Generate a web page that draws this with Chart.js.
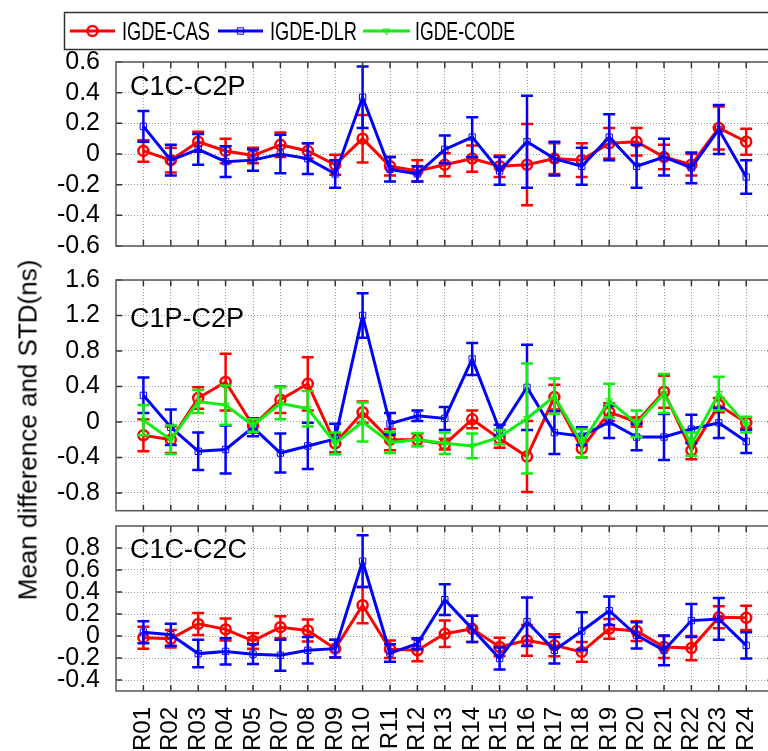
<!DOCTYPE html>
<html>
<head>
<meta charset="utf-8">
<script src="https://cdn.jsdelivr.net/npm/chart.js@4.4.1/dist/chart.umd.min.js"></script>
<style>
html, body { margin: 0; padding: 0; background: #fff; }
body { width: 768px; height: 751px; overflow: hidden; position: relative; }
canvas { position: absolute; left: 0; }
#ytitle {
    position: absolute; left: 28px; top: 430px;
    transform: translate(-50%, -50%) rotate(-90deg);
    font: 26px 'Liberation Sans', Arial, sans-serif;
    white-space: nowrap; color: #000;
}
</style>
</head>
<body>
<canvas id="p1" width="782" height="256" style="top:0"></canvas>
<canvas id="p2" width="782" height="253" style="top:268px"></canvas>
<canvas id="p3" width="782" height="239" style="top:512px"></canvas>
<div id="ytitle">Mean difference and STD(ns)</div>
<script>
// stations (R06 absent)
const stations = ['R01','R02','R03','R04','R05','R07','R08','R09','R10','R11','R12','R13',
                  'R14','R15','R16','R17','R18','R19','R20','R21','R22','R23','R24'];

// C1C-C2P
const casP1    = [0.02,-0.04,0.08,0.02,-0.01,0.06,0.02,-0.07,0.10,-0.08,-0.11,-0.07,-0.03,-0.08,-0.07,-0.03,-0.04,0.07,0.08,-0.02,-0.07,0.17,0.08];
const casP1Std = [0.07,0.08,0.065,0.08,0.05,0.08,0.05,0.065,0.155,0.06,0.07,0.075,0.085,0.07,0.265,0.1,0.11,0.1,0.09,0.08,0.07,0.14,0.085];
const dlrP1    = [0.18,-0.04,0.03,-0.05,-0.04,0.0,-0.03,-0.13,0.37,-0.10,-0.13,0.03,0.11,-0.11,0.08,-0.03,-0.08,0.11,-0.08,-0.02,-0.09,0.16,-0.15];
const dlrP1Std = [0.1,0.1,0.1,0.1,0.07,0.125,0.1,0.09,0.2,0.08,0.05,0.09,0.13,0.09,0.3,0.11,0.12,0.15,0.14,0.12,0.1,0.16,0.11];

// C1P-C2P
const casP2     = [-0.15,-0.2,0.27,0.45,-0.04,0.25,0.43,-0.24,0.11,-0.2,-0.2,-0.25,0.03,-0.19,-0.39,0.28,-0.3,0.11,0.0,0.34,-0.32,0.19,-0.01];
const casP2Std  = [0.18,0.15,0.12,0.32,0.08,0.15,0.3,0.1,0.12,0.12,0.07,0.06,0.1,0.1,0.4,0.14,0.1,0.1,0.05,0.18,0.1,0.08,0.06];
const dlrP2     = [0.3,-0.06,-0.33,-0.31,-0.06,-0.35,-0.27,-0.19,1.2,-0.02,0.07,0.04,0.71,-0.09,0.39,-0.12,-0.16,0.0,-0.17,-0.17,-0.08,-0.01,-0.22];
const dlrP2Std  = [0.2,0.2,0.21,0.27,0.1,0.22,0.26,0.17,0.25,0.12,0.06,0.13,0.18,0.06,0.48,0.24,0.1,0.18,0.15,0.26,0.16,0.17,0.13];
const codeP2    = [0.02,-0.2,0.23,0.19,-0.04,0.21,0.15,-0.24,0.0,-0.23,-0.2,-0.24,-0.27,-0.17,0.04,0.29,-0.24,0.24,-0.02,0.32,-0.25,0.32,-0.03];
const codeP2Std = [0.17,0.16,0.13,0.22,0.07,0.18,0.2,0.12,0.22,0.12,0.075,0.12,0.14,0.08,0.62,0.2,0.16,0.19,0.15,0.22,0.13,0.19,0.09];

// C1C-C2C
const casP3    = [-0.015,-0.025,0.11,0.06,-0.045,0.08,0.05,-0.115,0.28,-0.12,-0.13,0.02,0.065,-0.1,-0.04,-0.085,-0.145,0.065,0.045,-0.1,-0.11,0.17,0.165];
const casP3Std = [0.1,0.08,0.1,0.1,0.07,0.1,0.1,0.08,0.165,0.08,0.1,0.12,0.12,0.085,0.14,0.1,0.09,0.09,0.09,0.1,0.11,0.1,0.11];
const dlrP3    = [0.035,0.012,-0.16,-0.14,-0.165,-0.175,-0.13,-0.115,0.68,-0.155,-0.07,0.33,0.065,-0.205,0.13,-0.13,0.045,0.23,0.006,-0.13,0.14,0.155,-0.085];
const dlrP3Std = [0.1,0.1,0.125,0.12,0.09,0.14,0.12,0.08,0.235,0.08,0.05,0.14,0.12,0.1,0.22,0.12,0.17,0.13,0.12,0.135,0.15,0.19,0.12];

// y tick labels per panel
const ticksP1 = [-0.6,-0.4,-0.2,0,0.2,0.4,0.6];
const ticksP2 = [-0.8,-0.4,0,0.4,0.8,1.2,1.6];
const ticksP3 = [-0.4,-0.2,0,0.2,0.4,0.6,0.8];

const FONT = "'Liberation Sans', Arial, sans-serif";

const styleCAS  = { label: 'IGDE-CAS',  color: '#ff0000', pointStyle: 'circle',   radius: 5,   border: 2.5, rotation: 0 };
const styleDLR  = { label: 'IGDE-DLR',  color: '#0000ff', pointStyle: 'rect',     radius: 4.5, border: 1,   rotation: 0 };
const styleCODE = { label: 'IGDE-CODE', color: '#11ee11', pointStyle: 'triangle', radius: 4,   border: 1,   rotation: 180 };

Chart.defaults.font.family = FONT;
Chart.defaults.color = '#000';

function lineSet(style, values, std) {
    return {
        label: style.label,
        data: values.map((v, i) => ({ x: i + 1, y: v })),
        std: std,
        borderColor: style.color,
        backgroundColor: style.color,
        borderWidth: 3,
        pointStyle: style.pointStyle,
        pointRadius: style.radius,
        pointBorderWidth: style.border,
        pointRotation: style.rotation,
        pointBorderColor: style.color,
        pointBackgroundColor: 'rgba(0,0,0,0)',
        tension: 0,
        clip: false
    };
}

// error bars, frame, inner ticks, panel label, legend
const panelFrame = {
    id: 'panelFrame',
    beforeDatasetsDraw(chart, args, opts) {
        const ctx = chart.ctx, a = chart.chartArea;
        ctx.save();
        ctx.font = '27px ' + FONT;
        ctx.fillStyle = '#000';
        ctx.textBaseline = 'alphabetic';
        ctx.fillText(opts.title, a.left + 14, a.top + opts.titleOffset);
        ctx.restore();
    },
    afterDatasetDraw(chart, args) {
        const ds = chart.data.datasets[args.index];
        if (!ds.std) return;
        const ctx = chart.ctx, ys = chart.scales.y;
        ctx.save();
        ctx.strokeStyle = ds.borderColor;
        ctx.lineWidth = 2.5;
        args.meta.data.forEach((pt, i) => {
            const v = ds.data[i].y, s = ds.std[i];
            const top = ys.getPixelForValue(v + s), bot = ys.getPixelForValue(v - s);
            ctx.beginPath();
            ctx.moveTo(pt.x, top); ctx.lineTo(pt.x, bot);
            ctx.moveTo(pt.x - 6, top); ctx.lineTo(pt.x + 6, top);
            ctx.moveTo(pt.x - 6, bot); ctx.lineTo(pt.x + 6, bot);
            ctx.stroke();
        });
        ctx.restore();
    },
    afterDraw(chart, args, opts) {
        const ctx = chart.ctx, a = chart.chartArea;
        const xs = chart.scales.x, ys = chart.scales.y;
        ctx.save();
        ctx.strokeStyle = '#333';
        ctx.lineWidth = 1.5;
        ctx.beginPath();
        xs.ticks.forEach(t => {
            const px = xs.getPixelForValue(t.value);
            ctx.moveTo(px, a.top); ctx.lineTo(px, a.top + 6);
            ctx.moveTo(px, a.bottom); ctx.lineTo(px, a.bottom - 6);
        });
        ys.ticks.forEach(t => {
            const py = ys.getPixelForValue(t.value);
            ctx.moveTo(a.left, py); ctx.lineTo(a.left + 6, py);
            ctx.moveTo(a.right, py); ctx.lineTo(a.right - 6, py);
        });
        ctx.stroke();
        ctx.strokeStyle = '#555';
        ctx.strokeRect(a.left, a.top, a.right - a.left, a.bottom - a.top);

        if (opts.legend) {
            ctx.strokeStyle = '#333';
            ctx.lineWidth = 1.5;
            ctx.strokeRect(64.5, 12.5, 760, 37);
            const items = [
                { s: styleCAS,  x0: 70,  x1: 115, tx: 122, w: 88 },
                { s: styleDLR,  x0: 218, x1: 263, tx: 270, w: 87 },
                { s: styleCODE, x0: 363, x1: 410, tx: 415, w: 100 }
            ];
            items.forEach(it => {
                ctx.strokeStyle = it.s.color;
                ctx.lineWidth = 3;
                ctx.beginPath();
                ctx.moveTo(it.x0, 31); ctx.lineTo(it.x1, 31);
                ctx.stroke();
                ctx.lineWidth = it.s.border;
                ctx.fillStyle = 'rgba(0,0,0,0)';
                Chart.helpers.drawPoint(ctx, {
                    pointStyle: it.s.pointStyle, radius: it.s.radius,
                    rotation: it.s.rotation, borderWidth: it.s.border
                }, (it.x0 + it.x1) / 2, 31);
                ctx.fillStyle = '#000';
                ctx.font = '26px ' + FONT;
                ctx.textBaseline = 'alphabetic';
                ctx.fillText(it.s.label, it.tx, 40, it.w);
            });
        }
        ctx.restore();
    }
};

function buildPanel(id, datasets, yMin, yMax, yTicks, frame, padding, showX) {
    return new Chart(document.getElementById(id), {
        type: 'line',
        data: { datasets: datasets },
        plugins: [panelFrame],
        options: {
            responsive: false,
            animation: false,
            layout: { padding: padding },
            plugins: {
                legend: { display: false },
                tooltip: { enabled: false },
                panelFrame: frame
            },
            scales: {
                x: {
                    type: 'linear',
                    min: 0, max: 24,
                    afterBuildTicks: s => { s.ticks = stations.map((n, i) => ({ value: i + 1 })); },
                    afterFit: s => {
                        s.height = showX ? 60 : 0;
                        s.paddingLeft = s.paddingRight = s.paddingTop = s.paddingBottom = 0;
                    },
                    grid: { color: '#9a9a9a', lineWidth: 1, drawTicks: false },
                    border: { display: false, dash: [1, 2] },
                    ticks: {
                        display: showX,
                        autoSkip: false,
                        maxRotation: 90, minRotation: 90,
                        padding: 16,
                        font: { size: 24 },
                        callback: v => stations[v - 1] || ''
                    }
                },
                y: {
                    min: yMin, max: yMax,
                    afterBuildTicks: s => { s.ticks = yTicks.map(v => ({ value: v })); },
                    afterFit: s => {
                        s.width = 116;
                        s.paddingLeft = s.paddingRight = s.paddingTop = s.paddingBottom = 0;
                    },
                    grid: { color: '#9a9a9a', lineWidth: 1, drawTicks: false },
                    border: { display: false, dash: [1, 2] },
                    ticks: {
                        autoSkip: false,
                        padding: 16,
                        font: { size: 25 },
                        callback: v => { const r = Math.round(v * 10) / 10; return r === 0 ? '0' : String(r); }
                    }
                }
            }
        }
    });
}

buildPanel('p1',
    [lineSet(styleDLR, dlrP1, dlrP1Std), lineSet(styleCAS, casP1, casP1Std)],
    -0.6, 0.6, ticksP1,
    { title: 'C1C-C2P', titleOffset: 33, legend: true },
    { top: 62, bottom: 10, left: 0, right: 8.4 }, false);

buildPanel('p2',
    [lineSet(styleCODE, codeP2, codeP2Std), lineSet(styleDLR, dlrP2, dlrP2Std), lineSet(styleCAS, casP2, casP2Std)],
    -1.0, 1.6, ticksP2,
    { title: 'C1P-C2P', titleOffset: 47, legend: false },
    { top: 12, bottom: 10.3, left: 0, right: 8.4 }, false);

buildPanel('p3',
    [lineSet(styleDLR, dlrP3, dlrP3Std), lineSet(styleCAS, casP3, casP3Std)],
    -0.5, 1.0, ticksP3,
    { title: 'C1C-C2C', titleOffset: 32, legend: false },
    { top: 14, bottom: 0, left: 0, right: 8.4 }, true);
</script>
</body>
</html>
